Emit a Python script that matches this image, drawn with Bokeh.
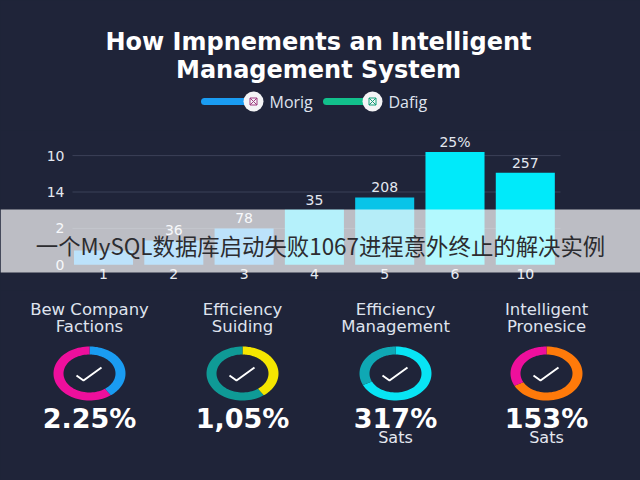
import numpy as np
from bokeh.embed import file_html
from bokeh.resources import INLINE
from bokeh.plotting import figure
from bokeh.layouts import column
from bokeh.models import Range1d, FixedTicker, BoxAnnotation, Label
from bokeh.core.properties import value

TITLE_LINES = ["How Impnements an Intelligent", "Management System"]
LEGEND_NAMES = ["Morig", "Dafig"]
BAR_CATEGORIES = ["1", "2", "3", "4", "5", "6", "10"]
BAR_VALUES = [0.39, 0.67, 1.0, 1.51, 1.85, 3.1, 2.53]
BAR_LABELS = ["", "36", "78", "35", "208", "25%", "257"]
BAR_COLORS = ["#1f9ef0", "#1f9ef0", "#1f9ef0", "#08d0f0", "#08c4e8", "#00eafa", "#00eafa"]
Y_TICK_LABELS = ["0", "2", "14", "10"]
DONUT_LINE1 = ["Bew Company", "Efficiency", "Efficiency", "Intelligent"]
DONUT_LINE2 = ["Factions", "Suiding", "Management", "Pronesice"]
DONUT_VALUES = ["2.25%", "1,05%", "317%", "153%"]
DONUT_NOTES = ["", "", "Sats", "Sats"]
DONUT_SHARES = [0.40, 0.40, 0.68, 0.675]
DONUT_FIRST = ["#1a9cf2", "#f5e600", "#08e4f4", "#ff7a0a"]
DONUT_REST = ["#ee0f9c", "#0f9a96", "#0fa8b4", "#ee0f9c"]
BANNER = "一个MySQL数据库启动失败1067进程意外终止的解决实例"

BG = "#1f2439"
W = 640


def bare(f):
    f.min_border_left = f.min_border_right = f.min_border_top = f.min_border_bottom = 0
    return f


def blank(y0, y1):
    f = bare(figure(width=W, height=y1 - y0, x_range=Range1d(0, W), y_range=Range1d(y1, y0),
                    toolbar_location=None, output_backend="svg",
                    background_fill_color=BG, border_fill_color=BG, outline_line_color=None))
    f.axis.visible = False
    f.grid.visible = False
    return f


# --- title and legend
top = blank(0, 130)
top.text([318, 318], [41, 69], text=TITLE_LINES, text_font=value("DejaVu Sans"),
         text_font_style="bold", text_font_size="24px", text_color="#ffffff",
         text_align="center", text_baseline="middle")
top.line([204, 250], [101, 101], line_color="#1a9cf2", line_width=7, line_cap="round")
top.line([326, 368], [101, 101], line_color="#12c08c", line_width=7, line_cap="round")
top.scatter([253, 372], [101, 101], size=20, fill_color="#f4f4f6", line_color=None)
top.scatter([253, 372], [101, 101], size=7, marker="square_x", fill_color=None,
            line_color=["#a03a80", "#12a078"], line_width=1)
top.text([269, 388], [101, 101], text=LEGEND_NAMES, text_font=value("Open Sans"),
         text_font_size="16px", text_color="#dfe3ee", text_baseline="middle")

# --- bars: frame fills the whole canvas, axes sit at fixed places inside it
X0_PX, X_STEP = 103.0, 70.3
Y0_PX, Y_STEP = 264.3, 36.4
to_x = lambda px: (px - X0_PX) / X_STEP
to_y = lambda px: (Y0_PX - px) / Y_STEP

xs = list(range(len(BAR_VALUES)))
bars = bare(figure(width=W, height=160, x_range=Range1d(to_x(0), to_x(640)),
                   y_range=Range1d(to_y(290), to_y(130)),
                   toolbar_location=None, output_backend="svg",
                   background_fill_color=BG, border_fill_color=BG, outline_line_color=None))
ticks_y = list(range(len(Y_TICK_LABELS)))
bars.grid.visible = False
bars.segment(to_x(72), ticks_y[1:], to_x(560), ticks_y[1:], line_color="#3b4058", line_width=1)
bars.vbar(x=xs, top=BAR_VALUES, width=0.84, fill_color=BAR_COLORS, line_color=None)
bars.text(xs, BAR_VALUES, text=BAR_LABELS, y_offset=-10, text_font=value("DejaVu Sans"),
          text_font_size="14px", text_color="#e4e8f0", text_align="center",
          text_baseline="middle")
bars.xaxis.ticker = FixedTicker(ticks=xs)
bars.xaxis.major_label_overrides = {i: c for i, c in enumerate(BAR_CATEGORIES)}
bars.yaxis.ticker = FixedTicker(ticks=ticks_y)
bars.yaxis.major_label_overrides = {i: c for i, c in enumerate(Y_TICK_LABELS)}
bars.xaxis.fixed_location = to_y(262)
bars.yaxis.fixed_location = to_x(73)
for ax in (bars.xaxis, bars.yaxis):
    ax.axis_line_color = None
    ax.major_tick_line_color = None
    ax.minor_tick_line_color = None
    ax.major_label_text_color = "#e4e8f0"
    ax.major_label_text_font = "DejaVu Sans"
    ax.major_label_text_font_size = "14px"
bars.xaxis.major_label_standoff = 0
bars.yaxis.major_label_standoff = 3

band = BoxAnnotation(top=to_y(209), bottom=to_y(272), fill_color="#ffffff", fill_alpha=0.7,
                     line_color=None, level="overlay")
bars.add_layout(band)
bars.add_layout(Label(x=to_x(320), y=to_y(244), text=BANNER,
                      text_font="Noto Sans CJK SC", text_font_size="22.4px", text_color="#2c2c30",
                      text_align="center", text_baseline="middle", level="overlay"))

# --- donuts
low = blank(290, 480)
cx = [89, 242, 395, 546]
cy = 373
RX, RY, rx, ry = 36, 27, 26, 19


def arc_patch(c, a0, a1):
    t = np.linspace(a0, a1, 60) * 2 * np.pi
    xo, yo = c + RX * np.sin(t), cy - RY * np.cos(t)
    xi, yi = c + rx * np.sin(t[::-1]), cy - ry * np.cos(t[::-1])
    return np.r_[xo, xi], np.r_[yo, yi]


for c, s, c1, c2, l1, l2, v, n in zip(cx, DONUT_SHARES, DONUT_FIRST, DONUT_REST,
                                     DONUT_LINE1, DONUT_LINE2, DONUT_VALUES, DONUT_NOTES):
    x, y = arc_patch(c, 0, s)
    low.patch(x, y, fill_color=c1, line_color=None)
    x, y = arc_patch(c, s, 1)
    low.patch(x, y, fill_color=c2, line_color=None)
    low.line([c - 13, c - 6, c + 12], [cy + 2, cy + 7, cy - 6], line_color="#ffffff", line_width=2)
    low.text([c, c], [309, 326], text=[l1, l2], text_font=value("DejaVu Sans"),
             text_font_size="16.5px", text_color="#dfe3ee", text_align="center",
             text_baseline="middle")
    low.text([c], [418], text=[v], text_font=value("DejaVu Sans"), text_font_style="bold",
             text_font_size="27px", text_color="#ffffff", text_align="center",
             text_baseline="middle")
    if n:
        low.text([c], [437], text=[n], text_font=value("DejaVu Sans"), text_font_size="16px",
                 text_color="#e4e8f0", text_align="center", text_baseline="middle")

page = column(top, bars, low, spacing=0)
html = file_html(page, INLINE)
html = html.replace("<head>", "<head><style>html,body{margin:0;background:%s}</style>" % BG, 1)
open("out.html", "w").write(html)
